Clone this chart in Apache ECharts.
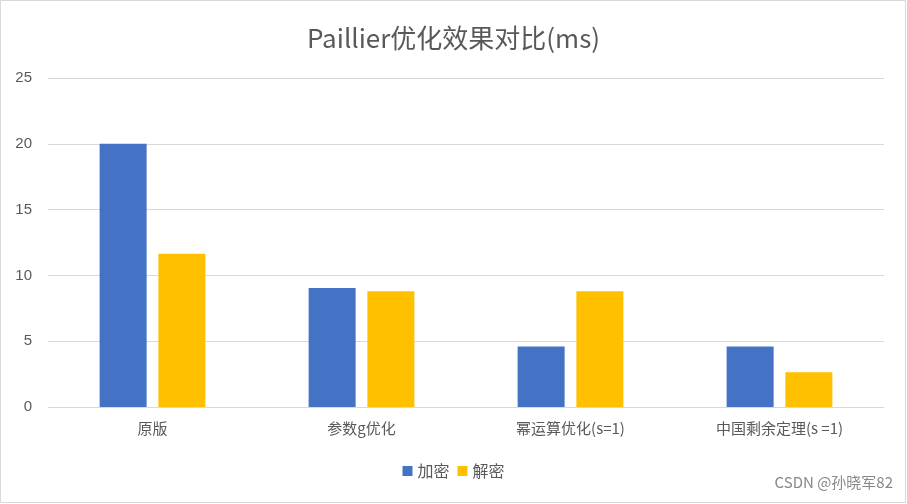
<!DOCTYPE html><html><head><meta charset="utf-8"><script src="https://cdn.jsdelivr.net/npm/echarts@6/dist/echarts.min.js"></script>
<style>body{margin:0}#c{width:907px;height:504px}</style></head><body><div id="c"></div><script>
const categories=['原版','参数g优化','幂运算优化(s=1)','中国剩余定理(s =1)'];
const encrypt=[20,9.05,4.6,4.6];
const decrypt=[11.65,8.8,8.8,2.65];
const c=echarts.init(document.getElementById('c'));
c.setOption({
 animation:false,backgroundColor:'#fff',
 title:{text:'Paillier优化效果对比(ms)',left:'center',top:20,textStyle:{fontSize:26,fontWeight:'normal',color:'#595959',fontFamily:'Noto Sans CJK SC'}},
 grid:{left:48,right:23,top:78,bottom:97},
 legend:{bottom:20,itemWidth:10,itemHeight:10,icon:'rect',textStyle:{fontSize:16,color:'#595959',fontFamily:'Noto Sans CJK SC'},data:['加密','解密']},
 xAxis:{type:'category',data:categories,axisTick:{show:false},axisLine:{lineStyle:{color:'#d9d9d9'}},axisLabel:{fontSize:15,color:'#595959',fontFamily:'Noto Sans CJK SC',margin:14}},
 yAxis:{type:'value',min:0,max:25,interval:5,axisLabel:{fontSize:15,color:'#595959',margin:16},splitLine:{lineStyle:{color:'#d9d9d9'}}},
 series:[{name:'加密',type:'bar',data:encrypt,barWidth:47,barGap:'25%',itemStyle:{color:'#4472c4'}},
 {name:'解密',type:'bar',data:decrypt,barWidth:47,itemStyle:{color:'#ffc000'}}],
 graphic:[{type:'rect',shape:{x:0.5,y:0.5,width:905,height:502},style:{fill:'none',stroke:'#d9d9d9'}},
 {type:'text',right:14,bottom:14,style:{text:'CSDN @孙晓军82',fontSize:15,fill:'#888',fontFamily:'Noto Sans CJK SC'}}]
});
</script></body></html>
